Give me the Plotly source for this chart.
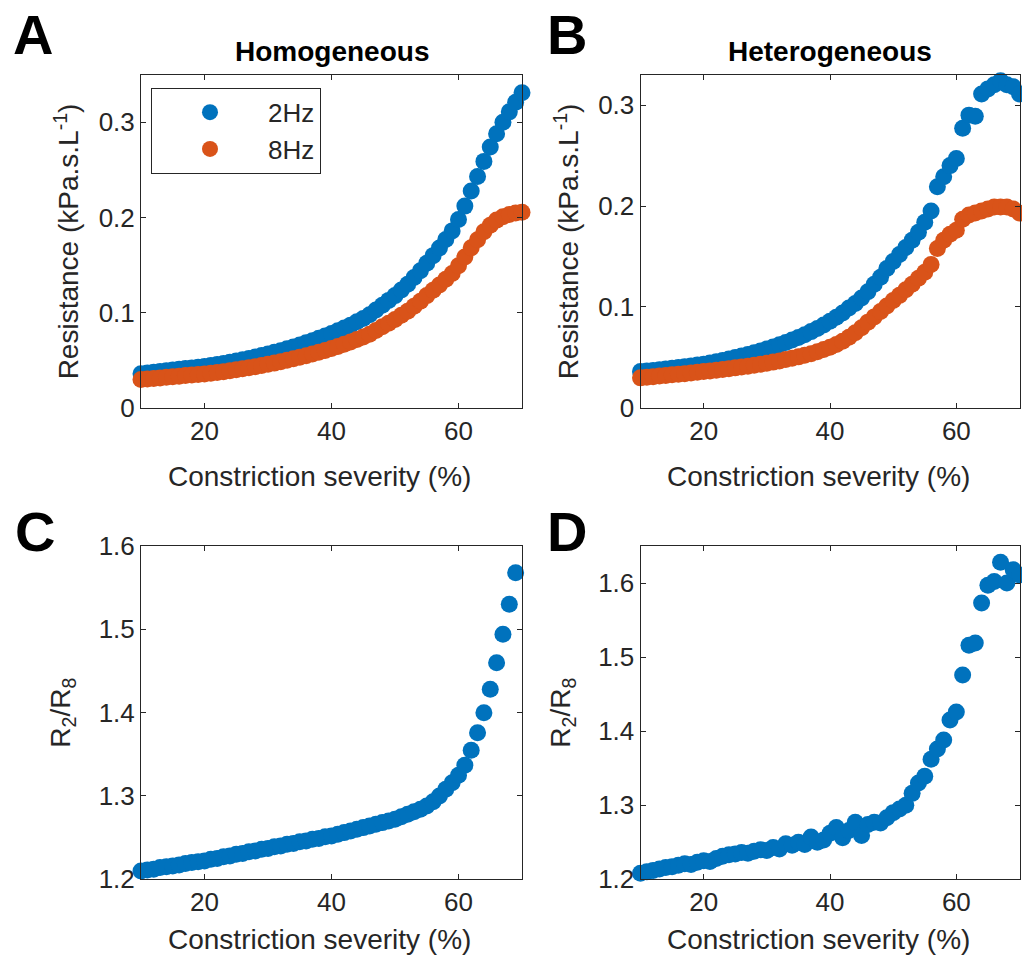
import plotly.graph_objects as go

# ---------------- data ----------------
severity = [10, 11, 12, 13, 14, 15, 16, 17, 18, 19, 20, 21, 22, 23, 24, 25, 26, 27, 28, 29,
            30, 31, 32, 33, 34, 35, 36, 37, 38, 39, 40, 41, 42, 43, 44, 45, 46, 47, 48, 49,
            50, 51, 52, 53, 54, 55, 56, 57, 58, 59, 60, 61, 62, 63, 64, 65, 66, 67, 68, 69, 70]

homo_2hz = [0.0360, 0.0368, 0.0376, 0.0384, 0.0392, 0.0400, 0.0407, 0.0414, 0.0421, 0.0428,
            0.0435, 0.0446, 0.0457, 0.0468, 0.0480, 0.0493, 0.0506, 0.0520, 0.0535, 0.0550,
            0.0567, 0.0584, 0.0602, 0.0621, 0.0641, 0.0662, 0.0684, 0.0707, 0.0731, 0.0756,
            0.0782, 0.0810, 0.0840, 0.0870, 0.0905, 0.0940, 0.0980, 0.1030, 0.1080, 0.1130,
            0.1180, 0.1240, 0.1300, 0.1370, 0.1440, 0.1520, 0.1600, 0.1680, 0.1770, 0.1860,
            0.1980, 0.2120, 0.2280, 0.2430, 0.2590, 0.2740, 0.2880, 0.3000, 0.3110, 0.3210, 0.3310]

homo_8hz = [0.0298, 0.0304, 0.0310, 0.0316, 0.0323, 0.0329, 0.0334, 0.0340, 0.0345, 0.0351,
            0.0356, 0.0364, 0.0373, 0.0381, 0.0391, 0.0401, 0.0411, 0.0422, 0.0434, 0.0445,
            0.0458, 0.0471, 0.0486, 0.0500, 0.0516, 0.0532, 0.0549, 0.0567, 0.0585, 0.0604,
            0.0625, 0.0646, 0.0668, 0.0692, 0.0718, 0.0745, 0.0775, 0.0814, 0.0852, 0.0890,
            0.0928, 0.0973, 0.1017, 0.1069, 0.1121, 0.1180, 0.1237, 0.1292, 0.1353, 0.1413,
            0.1494, 0.1586, 0.1683, 0.1766, 0.1850, 0.1919, 0.1973, 0.2008, 0.2033, 0.2047, 0.2056]

hetero_2hz = [0.0360, 0.0366, 0.0372, 0.0379, 0.0386, 0.0393, 0.0400, 0.0408, 0.0416, 0.0425,
              0.0434, 0.0446, 0.0458, 0.0471, 0.0485, 0.0499, 0.0514, 0.0530, 0.0547, 0.0565,
              0.0584, 0.0604, 0.0625, 0.0648, 0.0672, 0.0698, 0.0726, 0.0756, 0.0788, 0.0822,
              0.0858, 0.0898, 0.0940, 0.0990, 0.1035, 0.1090, 0.1150, 0.1225, 0.1295, 0.1380,
              0.1450, 0.1520, 0.1590, 0.1660, 0.1740, 0.1840, 0.1950, 0.2190, 0.2290, 0.2400,
              0.2470, 0.2770, 0.2900, 0.2890, 0.3110, 0.3160, 0.3200, 0.3240, 0.3200, 0.3180, 0.3110]

hetero_8hz = [0.0298, 0.0304, 0.0310, 0.0316, 0.0322, 0.0328, 0.0334, 0.0340, 0.0347, 0.0353,
              0.0360, 0.0367, 0.0374, 0.0381, 0.0389, 0.0397, 0.0405, 0.0414, 0.0423, 0.0433,
              0.0443, 0.0454, 0.0466, 0.0479, 0.0492, 0.0506, 0.0521, 0.0538, 0.0557, 0.0578,
              0.0601, 0.0628, 0.0660, 0.0700, 0.0745, 0.0795, 0.0850, 0.0902, 0.0955, 0.1010,
              0.1065, 0.1115, 0.1170, 0.1225, 0.1285, 0.1345, 0.1420, 0.1580, 0.1660, 0.1720,
              0.1760, 0.1870, 0.1910, 0.1930, 0.1950, 0.1970, 0.1990, 0.1990, 0.1990, 0.1970, 0.1930]

homo_ratio = [1.210, 1.211, 1.212, 1.214, 1.215, 1.216, 1.217, 1.219, 1.220, 1.221,
              1.222, 1.224, 1.225, 1.227, 1.228, 1.230, 1.231, 1.233, 1.234, 1.236,
              1.237, 1.239, 1.240, 1.242, 1.243, 1.245, 1.246, 1.248, 1.249, 1.251,
              1.252, 1.254, 1.256, 1.258, 1.260, 1.262, 1.264, 1.266, 1.268, 1.270,
              1.272, 1.275, 1.278, 1.281, 1.284, 1.288, 1.293, 1.300, 1.308, 1.316,
              1.325, 1.337, 1.355, 1.376, 1.400, 1.428, 1.460, 1.494, 1.530, 1.568, 1.610]

hetero_ratio = [1.208, 1.210, 1.212, 1.214, 1.216, 1.217, 1.219, 1.221, 1.220, 1.223,
                1.225, 1.224, 1.228, 1.231, 1.233, 1.234, 1.236, 1.235, 1.238, 1.240,
                1.239, 1.243, 1.241, 1.248, 1.246, 1.250, 1.247, 1.257, 1.250, 1.253,
                1.262, 1.270, 1.256, 1.266, 1.277, 1.259, 1.274, 1.277, 1.276, 1.283,
                1.290, 1.295, 1.300, 1.316, 1.330, 1.339, 1.362, 1.376, 1.388, 1.415,
                1.426, 1.476, 1.516, 1.519, 1.573, 1.597, 1.602, 1.628, 1.600, 1.618, 1.611]

x_ticks = [20, 40, 60]
res_ticks = [0, 0.1, 0.2, 0.3]
res_tick_text = ["0", "0.1", "0.2", "0.3"]
ratio_ticks = [1.2, 1.3, 1.4, 1.5, 1.6]
ratio_tick_text = ["1.2", "1.3", "1.4", "1.5", "1.6"]

# ---------------- style ----------------
BLUE = "#0072BD"
ORANGE = "#D95319"
AX = "#262626"
FONT = "Liberation Sans, Arial, Helvetica, sans-serif"
W, H = 1022, 969
MS = 17
TICK_FS = 26
LABEL_FS = 28


# the captured page appears vertically squeezed (y_seen ~ 15.3 + 0.968*y);
# positions below are wanted on-screen pixel rows, converted to figure rows.
def fy(y_seen):
    return (y_seen - 15.3) / 0.9684


boxes = {  # left, right, top, bottom (on-screen px)
    "A": (141, 522, 75, 408),
    "B": (640.5, 1019.5, 75, 408),
    "C": (141, 522, 546, 879),
    "D": (640.5, 1019.5, 546, 879),
}
yranges = {"A": [0, 0.35], "B": [0, 0.33], "C": [1.2, 1.6], "D": [1.2, 1.65]}


def dom(box):
    l, r, t, b = box
    return [l / W, r / W], [1 - fy(b) / H, 1 - fy(t) / H]


def py(y_seen):
    return 1 - fy(y_seen) / H


fig = go.Figure()


def visible(xs, ys, yr):
    pts = [(a, b) for a, b in zip(xs, ys) if yr[0] <= b <= yr[1]]
    return [p[0] for p in pts], [p[1] for p in pts]


def add(xs, ys, color, name, ax, legend):
    fig.add_trace(go.Scatter(x=xs, y=ys, mode="markers", name=name,
                             marker=dict(color=color, size=MS, line=dict(width=0)),
                             xaxis="x" + ax, yaxis="y" + ax, cliponaxis=False,
                             showlegend=legend))


add(severity, homo_2hz, BLUE, "2Hz", "", True)
add(severity, homo_8hz, ORANGE, "8Hz", "", True)
add(severity, hetero_2hz, BLUE, "2Hz", "2", False)
add(severity, hetero_8hz, ORANGE, "8Hz", "2", False)
cx, cy = visible(severity, homo_ratio, yranges["C"])
add(cx, cy, BLUE, "R2/R8", "3", False)
dx, dy = visible(severity, hetero_ratio, yranges["D"])
add(dx, dy, BLUE, "R2/R8", "4", False)

axis_common = dict(showline=True, linecolor=AX, linewidth=1, mirror="ticks",
                   ticks="inside", ticklen=5, tickwidth=1, tickcolor=AX,
                   showgrid=False, zeroline=False,
                   tickfont=dict(family=FONT, size=TICK_FS, color=AX))

layout_axes = {}
names = ["A", "B", "C", "D"]
for i, k in enumerate(names):
    xd, yd = dom(boxes[k])
    sx = "" if i == 0 else str(i + 1)
    layout_axes["xaxis" + sx] = dict(axis_common, domain=xd, range=[10, 70],
                                     tickvals=x_ticks, anchor="y" + sx)
    if k in ("A", "B"):
        yt = dict(tickvals=res_ticks, ticktext=res_tick_text)
    else:
        yt = dict(tickvals=ratio_ticks, ticktext=ratio_tick_text)
    layout_axes["yaxis" + sx] = dict(axis_common, domain=yd, range=yranges[k],
                                     anchor="x" + sx, **yt)

annotations = []
for k, (x, y) in {"A": (33, 35), "B": (567, 35), "C": (35, 531), "D": (567, 531)}.items():
    annotations.append(dict(text="<b>%s</b>" % k, x=x / W, y=py(y), xref="paper", yref="paper",
                            xanchor="center", yanchor="middle", showarrow=False,
                            font=dict(family=FONT, size=56, color="black")))
for k, t in (("A", "Homogeneous"), ("B", "Heterogeneous")):
    l, r, tp, b = boxes[k]
    annotations.append(dict(text="<b>%s</b>" % t, x=(l + r) / 2 / W, y=py(52),
                            xref="paper", yref="paper", xanchor="center", yanchor="middle",
                            showarrow=False, font=dict(family=FONT, size=LABEL_FS, color="black")))
xlab_y = {"A": 476, "B": 476, "C": 939, "D": 939}
for k in names:
    l, r, tp, b = boxes[k]
    annotations.append(dict(text="Constriction severity (%)", x=((l + r) / 2 - 12) / W,
                            y=py(xlab_y[k]), xref="paper", yref="paper",
                            xanchor="center", yanchor="middle", showarrow=False,
                            font=dict(family=FONT, size=LABEL_FS, color=AX)))
ylab = {"A": ("Resistance (kPa.s.L<sup>-1</sup>)", 67),
        "B": ("Resistance (kPa.s.L<sup>-1</sup>)", 567),
        "C": ("R<sub>2</sub>/R<sub>8</sub>", 63),
        "D": ("R<sub>2</sub>/R<sub>8</sub>", 563)}
for k, (t, xp) in ylab.items():
    l, r, tp, b = boxes[k]
    annotations.append(dict(text=t, x=xp / W, y=py((tp + b) / 2), xref="paper", yref="paper",
                            xanchor="center", yanchor="middle", textangle=-90, showarrow=False,
                            font=dict(family=FONT, size=LABEL_FS, color=AX)))

fig.update_layout(
    width=W, height=H,
    margin=dict(l=0, r=0, t=0, b=0),
    paper_bgcolor="white", plot_bgcolor="white",
    showlegend=True,
    legend=dict(x=151 / W, y=py(88), xanchor="left", yanchor="top",
                bordercolor=AX, borderwidth=1, bgcolor="white",
                itemwidth=106, itemsizing="trace",
                font=dict(family=FONT, size=TICK_FS, color=AX)),
    annotations=annotations,
    **layout_axes,
)

fig.write_html("out.html")
